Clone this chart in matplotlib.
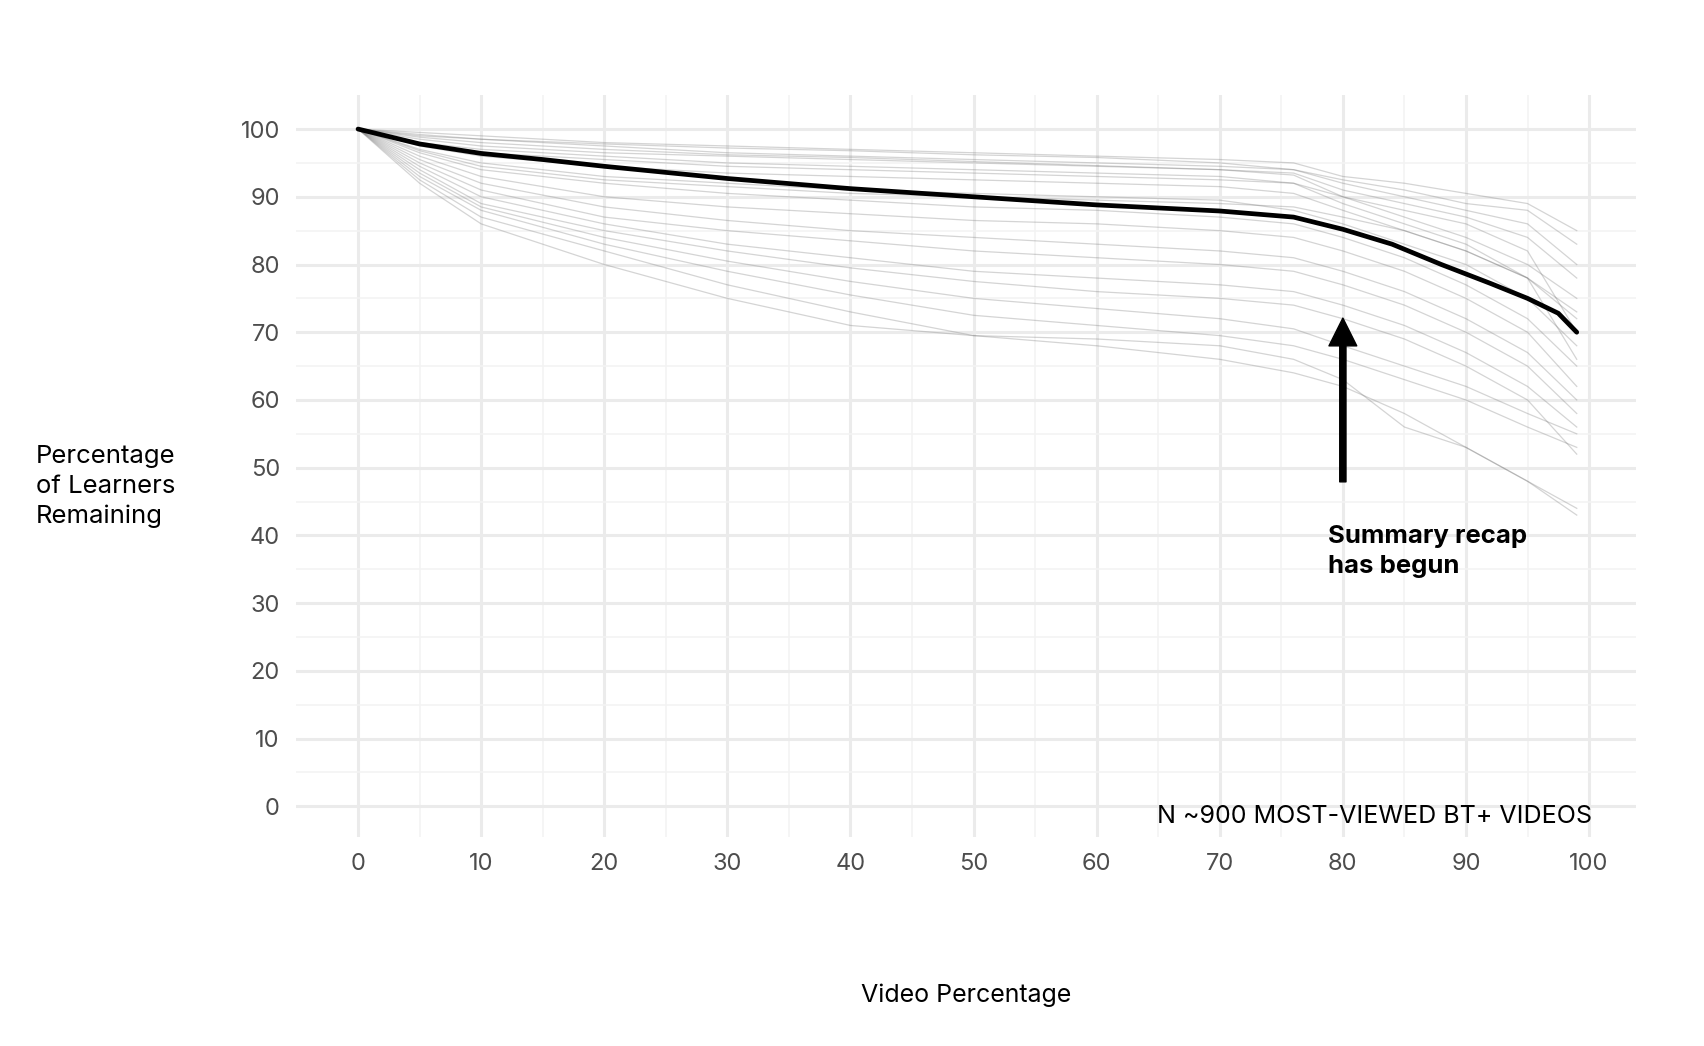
import matplotlib.pyplot as plt
import numpy as np

plt.rcParams['font.family'] = ['Inter', 'DejaVu Sans']

mean_x = [0, 5, 10, 15, 20, 30, 40, 50, 60, 70, 76, 80, 84, 88, 92, 95, 97.5, 99]
mean_y = [100, 97.8, 96.4, 95.5, 94.5, 92.7, 91.2, 90.0, 88.8, 87.9, 87.0, 85.2, 83.0, 80.0, 77.2, 75.0, 72.8, 70.0]

gx = [0, 5, 10, 20, 30, 40, 50, 60, 70, 76, 80, 85, 90, 95, 99]
gray_series = [
    [100, 99.5, 99, 98, 97.5, 97, 96.5, 96, 95.5, 95, 93, 92, 90.5, 89, 85],
    [100, 99, 98.5, 97.5, 96.5, 96, 95.5, 95, 94.5, 94, 92, 90, 88, 86, 80],
    [100, 98.5, 97.5, 96.5, 96, 95.5, 95, 94.5, 94, 93.5, 91, 89, 87, 84, 78],
    [100, 98, 97, 96, 95, 94.5, 94, 93.5, 93, 92, 89, 86, 83, 78, 73],
    [100, 97.5, 96, 94.5, 93.5, 93, 92.5, 92, 91.5, 90.5, 88, 85, 82, 78, 72],
    [100, 97, 95, 93, 92, 91, 90.5, 90, 89.5, 88, 86, 83, 80, 75, 68],
    [100, 96.5, 94, 92, 90.5, 89.5, 88.5, 88, 87, 86, 84, 81, 77, 72, 65],
    [100, 96, 93, 90, 88.5, 87.5, 86.5, 86, 85, 84, 82, 79, 75, 70, 62],
    [100, 95.5, 92, 88.5, 86.5, 85, 84, 83, 82, 81, 79, 76, 72, 67, 60],
    [100, 95, 91, 87, 85, 83.5, 82, 81, 80, 79, 77, 74, 70, 65, 58],
    [100, 94.5, 90, 86, 83, 81, 79, 78, 77, 76, 74, 71, 67, 62, 56],
    [100, 94, 89, 85, 82, 79.5, 77.5, 76, 75, 74, 72, 69, 65, 60, 52],
    [100, 93.5, 88.5, 84, 80.5, 77.5, 75, 73.5, 72, 70.5, 68, 65, 62, 58, 55],
    [100, 93, 88, 83, 79, 75.5, 72.5, 71, 69.5, 68, 66, 63, 60, 56, 53],
    [100, 92.5, 87, 82, 77, 73, 69.5, 69, 68, 66, 63, 56, 53, 48, 44],
    [100, 92, 86, 80, 75, 71, 69.5, 68, 66, 64, 62, 58, 53, 48, 43],
    [100, 99.2, 98.5, 97.8, 97.2, 96.8, 96.2, 95.8, 95, 94, 92.5, 91, 89, 88, 83],
    [100, 98.8, 98, 97, 96.2, 95.8, 95.2, 94.6, 94, 93.2, 90, 87, 84, 80, 75],
    [100, 97.8, 96.5, 95.5, 94.5, 94, 93.5, 93, 92.5, 92, 90, 88, 86, 82, 70],
    [100, 96.8, 94.5, 92.5, 91.5, 90.5, 90, 89.5, 89, 88.5, 87, 85, 82, 78, 66],
]

fig = plt.figure(figsize=(17.04, 10.46), dpi=100)
ax = fig.add_axes([0.174, 0.200, 0.786, 0.709])

for s in gray_series:
    ax.plot(gx, s, color='#666666', lw=0.9, alpha=0.28)
ax.plot(mean_x, mean_y, color='black', lw=3.4, solid_capstyle='round')

ax.set_xlim(-5, 103.8)
ax.set_ylim(-4.5, 105)
ax.set_xticks(np.arange(0, 101, 10))
ax.set_yticks(np.arange(0, 101, 10))
ax.set_xticks(np.arange(5, 101, 10), minor=True)
ax.set_yticks(np.arange(5, 101, 10), minor=True)
ax.grid(which='major', color='#ebebeb', lw=2.2)
ax.grid(which='minor', color='#f3f3f3', lw=1.1)
ax.set_axisbelow(True)
for sp in ax.spines.values():
    sp.set_visible(False)
ax.tick_params(which='both', length=0, labelsize=17, labelcolor='#4d4d4d', pad=12)

ax.set_xlabel('Video Percentage', fontsize=18, labelpad=78)
fig.text(0.021, 0.535, 'Percentage\nof Learners\nRemaining', fontsize=18.5, va='center', ha='left', linespacing=1.35)

ax.annotate('', xy=(80, 72.5), xytext=(80, 47.5),
            arrowprops=dict(arrowstyle='simple,head_length=2.0,head_width=2.0,tail_width=0.45', color='black'))
ax.text(78.8, 41.5, 'Summary recap\nhas begun', fontsize=18.5, fontweight='bold', va='top', ha='left', linespacing=1.4)
ax.text(100.2, -1.5, 'N ~900 MOST-VIEWED BT+ VIDEOS', fontsize=18, ha='right', va='center')

fig.savefig('out.png', dpi=100, facecolor='white')
